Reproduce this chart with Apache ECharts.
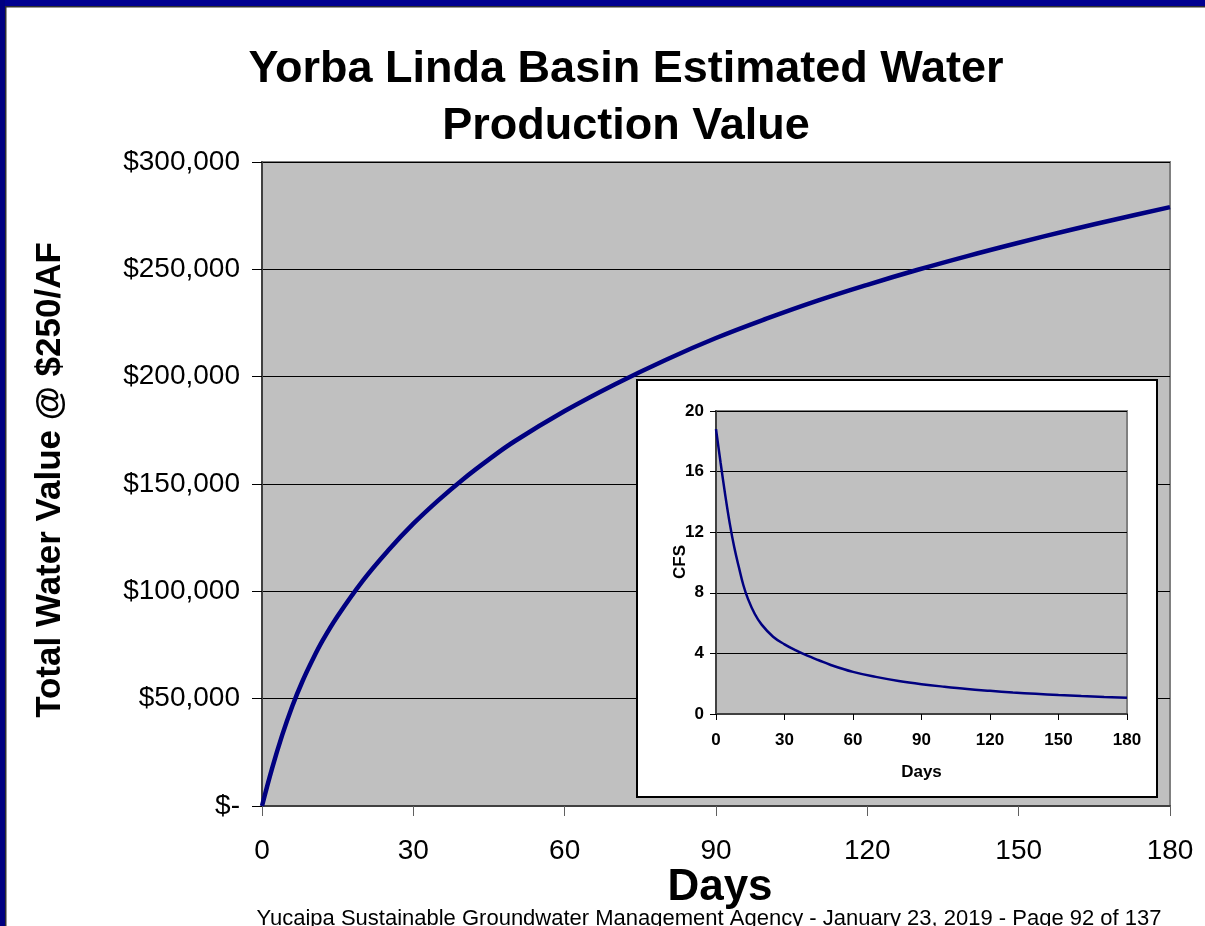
<!DOCTYPE html>
<html>
<head>
<meta charset="utf-8">
<script src="https://cdn.jsdelivr.net/npm/echarts@6/dist/echarts.min.js"></script>
<style>
  html, body { margin: 0; padding: 0; background: #fff; }
  #chart { width: 1205px; height: 926px; }
</style>
</head>
<body>
<div id="chart"></div>
<script>
// Cumulative production value ($) by day
var valueDays = [0, 2, 4, 6, 8, 10, 12, 15, 20, 25, 30, 35, 40, 45, 50, 60, 70, 80, 90, 100, 110, 120, 130, 140, 150, 160, 170, 180];
var valueDollars = [0, 17500, 33000, 46500, 58000, 68000, 77000, 88500, 105000, 119000, 131500, 142500, 152500, 161500, 169800, 184000, 196500, 207800, 218000, 227000, 235300, 242800, 249800, 256300, 262400, 268200, 273700, 279000];

// Flow rate (CFS) by day for the inset
var flowDays = [0, 2, 4, 6, 8, 10, 12, 14, 17, 20, 25, 30, 35, 40, 45, 50, 60, 70, 80, 90, 100, 110, 120, 130, 140, 150, 160, 170, 180];
var flowCfs = [18.8, 16.6, 14.5, 12.6, 11.0, 9.7, 8.5, 7.6, 6.6, 5.9, 5.1, 4.6, 4.2, 3.85, 3.55, 3.25, 2.78, 2.45, 2.18, 1.97, 1.80, 1.65, 1.53, 1.42, 1.33, 1.25, 1.18, 1.12, 1.07];

// Axis ticks
var mainDayTicks = { min: 0, max: 180, interval: 30 };
var mainValueTicks = { min: 0, max: 300000, interval: 50000 };
var insetCfsTicks = { min: 0, max: 20, interval: 4 };

var titleLines = ['Yorba Linda Basin Estimated Water', 'Production Value'];
var yTitle = 'Total Water Value @ $250/AF';
var xTitle = 'Days';
var insetYTitle = 'CFS';
var footer = 'Yucaipa Sustainable Groundwater Management Agency - January 23, 2019 - Page 92 of 137';

function pairs(xs, ys) {
  return xs.map(function (x, i) { return [x, ys[i]]; });
}

function dollars(v) {
  if (v === 0) return '$-';
  return '$' + v.toLocaleString('en-US');
}

var FONT = '"Liberation Sans", Arial, sans-serif';
var NAVY = '#000080';

var chart = echarts.init(document.getElementById('chart'), null, { renderer: 'canvas' });

chart.setOption({
  backgroundColor: '#ffffff',
  animation: false,
  grid: [
    { left: 262, top: 162, width: 908, height: 644, show: true, backgroundColor: '#C0C0C0', borderColor: '#808080', borderWidth: 2, z: 0 },
    { left: 716, top: 411, width: 411, height: 303, show: true, backgroundColor: '#C0C0C0', borderColor: '#808080', borderWidth: 2, z: 11 }
  ],
  xAxis: [
    {
      type: 'value', gridIndex: 0,
      min: mainDayTicks.min, max: mainDayTicks.max, interval: mainDayTicks.interval,
      axisLine: { show: true, lineStyle: { color: '#404040', width: 2 } },
      axisTick: { show: true, length: 10, lineStyle: { color: '#606060', width: 1 } },
      axisLabel: { margin: 31, color: '#000', fontSize: 28, fontFamily: FONT },
      splitLine: { show: false }
    },
    {
      type: 'value', gridIndex: 1, z: 12,
      min: mainDayTicks.min, max: mainDayTicks.max, interval: mainDayTicks.interval,
      name: xTitle, nameLocation: 'middle', nameGap: 50,
      nameTextStyle: { color: '#000', fontSize: 17, fontWeight: 'bold', fontFamily: FONT },
      axisLine: { show: true, lineStyle: { color: '#404040', width: 2 } },
      axisTick: { show: true, length: 6, lineStyle: { color: '#000', width: 1 } },
      axisLabel: { margin: 18, color: '#000', fontSize: 17, fontWeight: 'bold', fontFamily: FONT },
      splitLine: { show: false }
    }
  ],
  yAxis: [
    {
      type: 'value', gridIndex: 0,
      min: mainValueTicks.min, max: mainValueTicks.max, interval: mainValueTicks.interval,
      axisLine: { show: true, lineStyle: { color: '#404040', width: 2 } },
      axisTick: { show: true, length: 10, lineStyle: { color: '#000', width: 1 } },
      axisLabel: { margin: 22, color: '#000', fontSize: 28, fontFamily: FONT, formatter: dollars },
      splitLine: { show: true, lineStyle: { color: '#000', width: 1 } }
    },
    {
      type: 'value', gridIndex: 1, z: 12,
      min: insetCfsTicks.min, max: insetCfsTicks.max, interval: insetCfsTicks.interval,
      axisLine: { show: true, lineStyle: { color: '#404040', width: 2 } },
      axisTick: { show: true, length: 6, lineStyle: { color: '#000', width: 1 } },
      axisLabel: { margin: 12, color: '#000', fontSize: 17, fontWeight: 'bold', fontFamily: FONT },
      splitLine: { show: true, lineStyle: { color: '#000', width: 1 } }
    }
  ],
  series: [
    {
      type: 'line', xAxisIndex: 0, yAxisIndex: 0, z: 2,
      data: pairs(valueDays, valueDollars),
      smooth: 0.4, showSymbol: false, symbol: 'none',
      lineStyle: { color: NAVY, width: 4.5 }
    },
    {
      type: 'line', xAxisIndex: 1, yAxisIndex: 1, z: 13,
      data: pairs(flowDays, flowCfs),
      smooth: 0.4, showSymbol: false, symbol: 'none',
      lineStyle: { color: NAVY, width: 2.5 }
    }
  ],
  graphic: [
    // page frame
    { type: 'rect', z: 30, silent: true, shape: { x: 0, y: 0, width: 1205, height: 6 }, style: { fill: '#000090' } },
    { type: 'rect', z: 30, silent: true, shape: { x: 0, y: 0, width: 5, height: 926 }, style: { fill: '#000080' } },
    { type: 'rect', z: 30, silent: true, shape: { x: 5, y: 6, width: 1200, height: 1.5 }, style: { fill: '#303030' } },
    { type: 'rect', z: 30, silent: true, shape: { x: 5, y: 6, width: 1.5, height: 920 }, style: { fill: '#303030' } },
    // inset panel
    { type: 'rect', z: 10, silent: true, shape: { x: 637, y: 380, width: 520, height: 417 }, style: { fill: '#ffffff', stroke: '#000', lineWidth: 2 } },
    { type: 'text', z: 20, x: 680, y: 562, rotation: Math.PI / 2, style: { text: insetYTitle, fill: '#000', font: 'bold 17px ' + FONT, textAlign: 'center', textVerticalAlign: 'middle' } },
    // titles
    { type: 'text', z: 20, x: 626, y: 70, style: { text: titleLines[0], fill: '#000', font: 'bold 45px ' + FONT, textAlign: 'center', textVerticalAlign: 'middle' } },
    { type: 'text', z: 20, x: 626, y: 127, style: { text: titleLines[1], fill: '#000', font: 'bold 45px ' + FONT, textAlign: 'center', textVerticalAlign: 'middle' } },
    { type: 'text', z: 20, x: 50, y: 480, rotation: Math.PI / 2, style: { text: yTitle, fill: '#000', font: 'bold 35px ' + FONT, textAlign: 'center', textVerticalAlign: 'middle' } },
    { type: 'text', z: 20, x: 720, y: 888, style: { text: xTitle, fill: '#000', font: 'bold 44px ' + FONT, textAlign: 'center', textVerticalAlign: 'middle' } },
    { type: 'text', z: 19, x: 709, y: 919, style: { text: footer, fill: '#000', font: '22px ' + FONT, textAlign: 'center', textVerticalAlign: 'middle' } }
  ]
});
</script>
</body>
</html>
